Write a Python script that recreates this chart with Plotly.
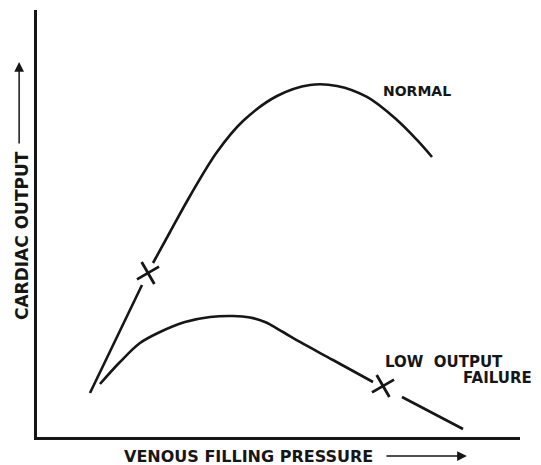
import plotly.graph_objects as go

# Normal curve (venous filling pressure vs cardiac output, arbitrary units 0-100)
normal_x_a = [10.97, 21.74]
normal_y_a = [10.30, 35.60]
normal_x_b = [24.02, 27.54, 31.68, 37.27, 42.65, 49.69, 56.52, 62.11, 68.32, 74.53, 78.67, 81.78]
normal_y_b = [40.75, 48.01, 56.44, 66.74, 74.00, 79.86, 82.44, 82.20, 79.63, 74.24, 69.56, 65.57]

# Low output failure curve
low_x_a = [13.04, 17.18, 21.33, 25.47, 30.64, 35.82, 40.58, 44.10, 47.20, 50.93, 54.45, 61.28, 69.57]
low_y_a = [12.41, 17.56, 22.01, 24.59, 26.93, 28.10, 28.34, 27.99, 26.93, 24.59, 22.25, 18.03, 12.88]
low_x_b = [75.57, 88.20]
low_y_b = [9.37, 1.87]

# Operating points (crosses)
cross_x = [22.98, 71.64]
cross_y = [38.41, 11.94]

INK = "#161616"
FONT = "DejaVu Sans"

fig = go.Figure()
for xs, ys, shape in [(normal_x_a, normal_y_a, "linear"),
                      (normal_x_b, normal_y_b, "spline"),
                      (low_x_a, low_y_a, "spline"),
                      (low_x_b, low_y_b, "linear")]:
    fig.add_trace(go.Scatter(x=xs, y=ys, mode="lines",
                             line=dict(color=INK, width=2.6, shape=shape, smoothing=1.0),
                             hoverinfo="skip", showlegend=False))

fig.add_trace(go.Scatter(x=cross_x, y=cross_y, mode="markers",
                         marker=dict(symbol="x-thin", size=18, angle=15,
                                     line=dict(color=INK, width=2.8)),
                         hoverinfo="skip", showlegend=False))

ann = [
    dict(text="<b>NORMAL</b>", x=78.67, y=81.03, xref="x", yref="y",
         xanchor="center", yanchor="middle", showarrow=False,
         font=dict(size=14, family=FONT, color=INK)),
    dict(text="<b>LOW  OUTPUT</b>", x=71.64, y=17.56, xref="x", yref="y",
         xanchor="left", yanchor="middle", showarrow=False,
         font=dict(size=15, family=FONT, color=INK)),
    dict(text="<b>FAILURE</b>", x=1.030, y=0.138, xref="paper", yref="paper",
         xanchor="right", yanchor="middle", showarrow=False,
         font=dict(size=15, family=FONT, color=INK)),
    dict(text="<b>VENOUS FILLING PRESSURE</b>", x=0.176, y=-0.0445, xref="paper", yref="paper",
         xanchor="left", yanchor="middle", showarrow=False,
         font=dict(size=16, family=FONT, color=INK)),
    dict(text="<b>CARDIAC OUTPUT</b>", x=-0.031, y=0.4707, xref="paper", yref="paper",
         xanchor="center", yanchor="middle", showarrow=False, textangle=-90,
         font=dict(size=17, family=FONT, color=INK)),
    # axis direction arrows
    dict(text="", x=0.890, y=-0.0445, ax=-82, ay=0,
         xref="paper", yref="paper", axref="pixel", ayref="pixel",
         showarrow=True, arrowhead=2, arrowsize=1.3, arrowwidth=1.5, arrowcolor=INK),
    dict(text="", x=-0.037, y=0.878, ax=0, ay=83,
         xref="paper", yref="paper", axref="pixel", ayref="pixel",
         showarrow=True, arrowhead=2, arrowsize=1.3, arrowwidth=1.5, arrowcolor=INK),
]

axis_common = dict(showgrid=False, zeroline=False, showticklabels=False, ticks="",
                   showline=True, linecolor=INK, linewidth=2.5, fixedrange=True)

# The page body has an 8px margin, so the figure is 8px smaller and margins compensate.
fig.update_layout(
    width=533, height=457,
    margin=dict(l=29, r=21, t=2, b=28),
    paper_bgcolor="white", plot_bgcolor="white",
    xaxis=dict(range=[0, 100], **axis_common),
    yaxis=dict(range=[0, 100], **axis_common),
    annotations=ann,
    showlegend=False,
)

fig.write_html("out.html")
